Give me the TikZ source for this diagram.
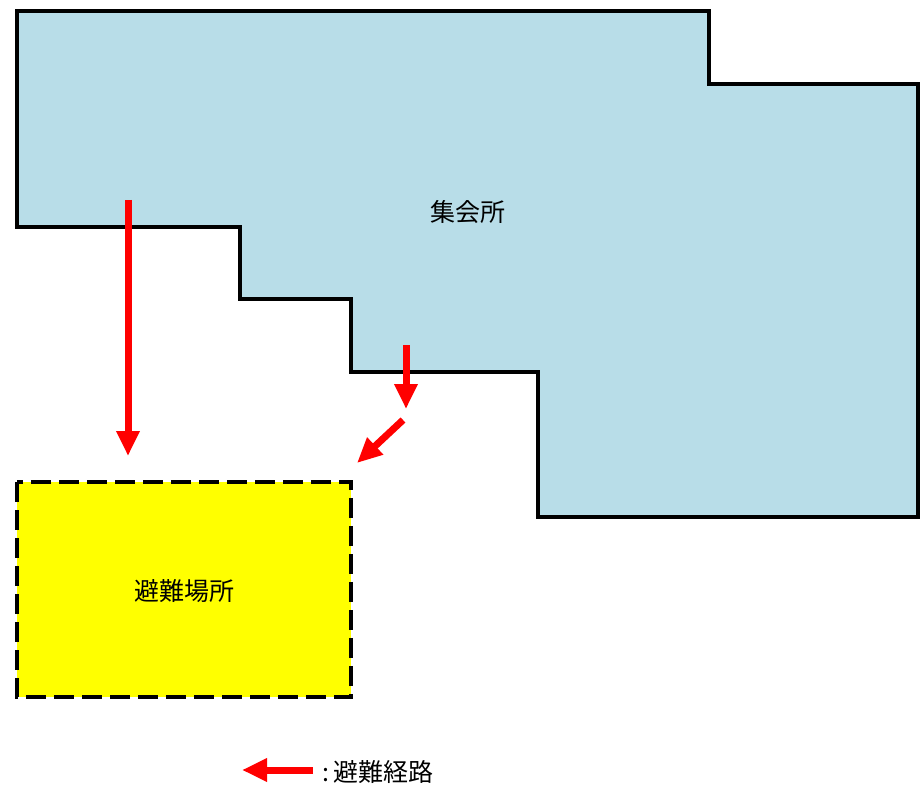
\documentclass[tikz,border=0pt]{standalone}
\usepackage{fontspec}
\newfontfamily\jp{Noto Sans CJK JP}
\usetikzlibrary{arrows.meta}
\definecolor{bldg}{RGB}{184,221,232}
\definecolor{refuge}{RGB}{255,255,0}
\definecolor{route}{RGB}{255,0,0}
\tikzset{
  wall/.style={draw=black, line width=4.5pt, fill=bldg, line join=miter},
  area/.style={draw=black, line width=3.5pt, fill=refuge, dash pattern=on 20pt off 8pt},
  evac/.style={draw=route, line width=7pt, -{Triangle[length=25pt,width=22pt]}},
  lbl/.style={font=\jp\fontsize{25pt}{30pt}\selectfont, inner sep=0pt}
}
\begin{document}
\begin{tikzpicture}[x=1pt,y=-1pt]
\useasboundingbox (0,0) rectangle (922,789);
\draw[wall] (17,11) -- (709,11) -- (709,84) -- (918,84) -- (918,517) -- (538,517) -- (538,372) -- (351,372) -- (351,299) -- (240,299) -- (240,227) -- (17,227) -- cycle;
\draw[area] (17,482) rectangle (351,697);
\node[lbl] (hall) at (468,212) {集会所};
\node[lbl] (shelter) at (184,591) {避難場所};
\coordinate (a1s) at (128,200);
\coordinate (a1e) at (128,456);
\coordinate (a2s) at (406,345);
\coordinate (a2e) at (406,409);
\coordinate (a3s) at (403,420);
\coordinate (a3e) at (357,463);
\coordinate (legs) at (313,770);
\coordinate (lege) at (242,770);
\draw[evac] (a1s) -- (a1e);
\draw[evac] (a2s) -- (a2e);
\draw[evac] (a3s) -- (a3e);
\draw[evac] (legs) -- (lege);
\node[lbl, anchor=west] (legend) at (322,772) {:\hspace{4pt}避難経路};
\end{tikzpicture}
\end{document}
